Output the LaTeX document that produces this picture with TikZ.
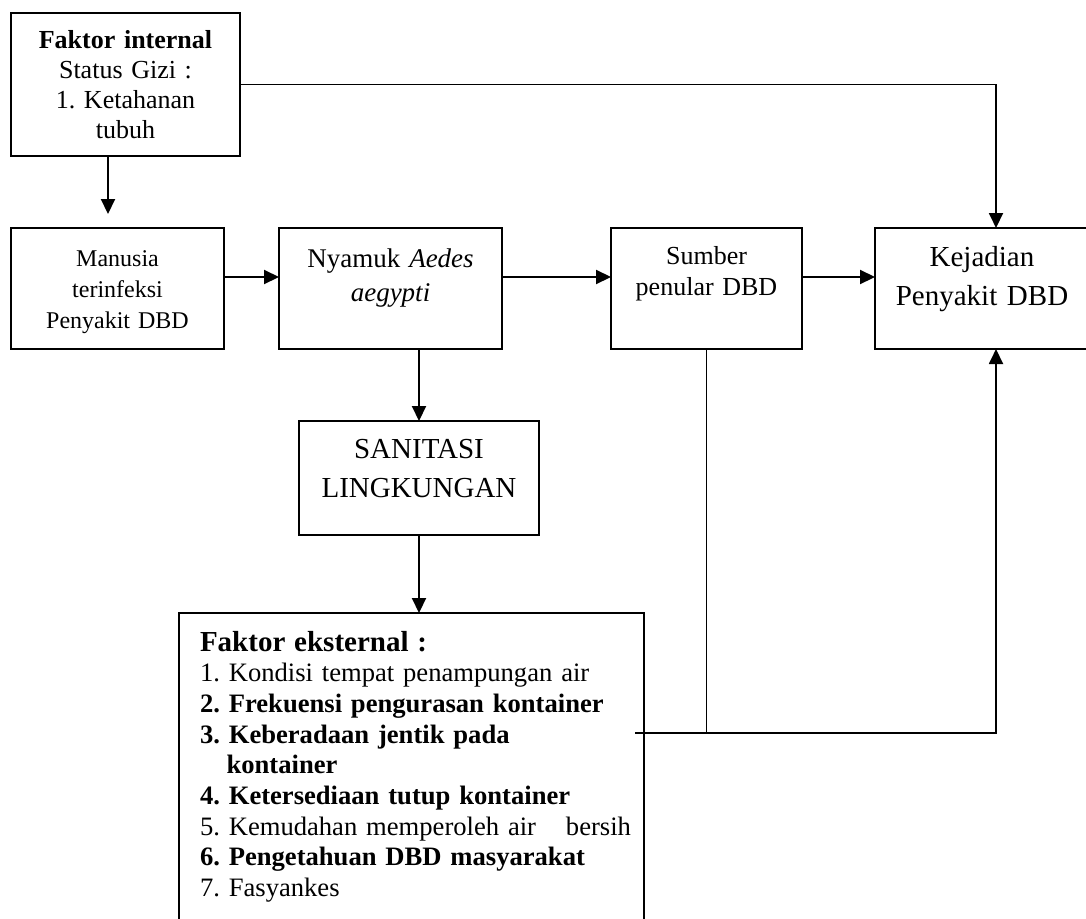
\documentclass[tikz,border=0pt]{standalone}
\usepackage{fontspec}
\setmainfont{Liberation Serif}
\usetikzlibrary{positioning, arrows.meta}
\frenchspacing

\begin{document}
\begin{tikzpicture}[
    x=1pt, y=-1pt,
    box/.style={rectangle, draw=black, line width=2.2pt, inner sep=0pt,
      outer sep=0pt, align=center},
    rowbox/.style={box, text height=38pt, text depth=83pt},
    arr/.style={-{Triangle[length=15pt, width=14pt]}, line width=2.1pt},
    conn/.style={line width=1.9pt},
  ]
  \useasboundingbox (0,0) rectangle (1086,918);

  \node[box, text width=229pt, text height=35pt, text depth=108pt,
    font=\fontsize{26}{30}\selectfont] (internal) at (125.5,84.5)
    {\textbf{Faktor internal}\\Status Gizi :\\1. Ketahanan\\tubuh};

  \node[rowbox, text width=213pt, font=\fontsize{24}{31}\selectfont]
    (manusia) at (117.5,288.5) {Manusia\\terinfeksi\\Penyakit DBD};
  \node[rowbox, text width=223pt, text height=39pt, text depth=82pt,
    font=\fontsize{27}{34}\selectfont, right=55pt of manusia]
    (nyamuk) {Nyamuk \textit{Aedes}\\\textit{aegypti}};
  \node[rowbox, text width=191pt, text height=36pt, text depth=85pt,
    font=\fontsize{26}{31}\selectfont, right=109pt of nyamuk]
    (sumber) {Sumber\\penular DBD};
  \node[rowbox, text width=214pt, font=\fontsize{29}{39}\selectfont,
    right=73pt of sumber] (kejadian) {Kejadian\\Penyakit DBD};

  \node[box, text width=240pt, text height=37pt, text depth=77pt,
    font=\fontsize{29}{39}\selectfont] (sanitasi) at (419,478)
    {SANITASI\\LINGKUNGAN};

  \node[box, anchor=north west, align=left, text width=423pt,
    inner xsep=21pt, text height=38pt, text depth=284pt,
    font=\fontsize{26.6}{30.7}\selectfont] (eksternal) at (179,613)
    {{\fontsize{29}{30.7}\selectfont\bfseries Faktor eksternal :}\\
     1. Kondisi tempat penampungan air\\
     \textbf{2. Frekuensi pengurasan kontainer}\\
     \textbf{3. Keberadaan jentik pada}\\
     \hspace*{26.6pt}\textbf{kontainer}\\
     \textbf{4. Ketersediaan tutup kontainer}\\
     \mbox{5. Kemudahan memperoleh air\hspace{21pt} bersih}\\
     \textbf{6. Pengetahuan DBD masyarakat}\\
     7. Fasyankes};

  \coordinate (gizi) at ([xshift=-17.5pt]internal.south);
  \coordinate (ekstout) at ([xshift=-9pt, yshift=-120pt]eksternal.north east);

  \draw[arr, shorten >=14pt] (gizi) -- (gizi |- manusia.north);
  \draw[arr, line width=1.9pt] (internal.east) -| ([xshift=14pt]kejadian.north);
  \draw[arr] ([yshift=11.5pt]manusia.east) -- ([yshift=11.5pt]nyamuk.west);
  \draw[arr] ([yshift=11.5pt]nyamuk.east) -- ([yshift=11.5pt]sumber.west);
  \draw[arr] ([yshift=11.5pt]sumber.east) -- ([yshift=11.5pt]kejadian.west);
  \draw[arr] (sanitasi.north |- nyamuk.south) -- (sanitasi.north);
  \draw[arr] (sanitasi.south) -- (sanitasi.south |- eksternal.north);
  \draw[conn] (sumber.south) -- (sumber.south |- ekstout);
  \draw[arr, line width=1.9pt] (ekstout) -| ([xshift=14pt]kejadian.south);
\end{tikzpicture}
\end{document}
